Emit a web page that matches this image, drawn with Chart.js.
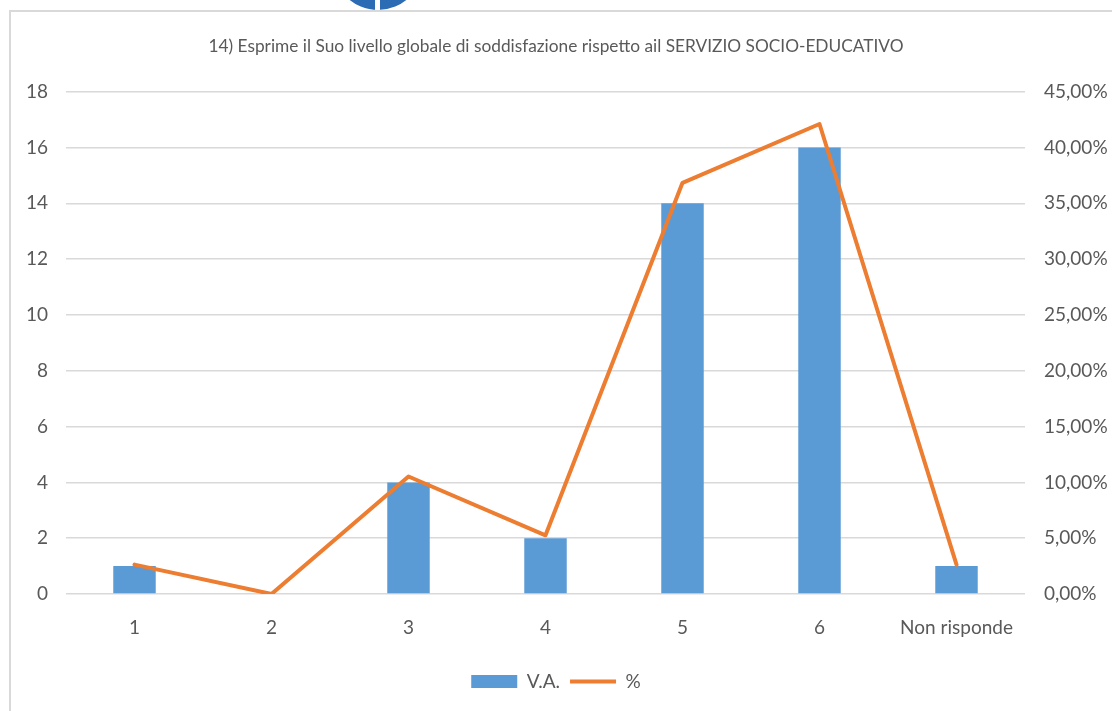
<!DOCTYPE html>
<html>
<head>
<meta charset="utf-8">
<script src="https://cdn.jsdelivr.net/npm/chart.js@4"></script>
<style>
  html, body { margin: 0; padding: 0; background: #fff; overflow: hidden; }
  #wrap { position: relative; width: 1112px; height: 711px; }
  #frameTop { position: absolute; left: 9px; top: 10px; width: 1103px; height: 2px; background: #d9d9d9; }
  #frameLeft { position: absolute; left: 9px; top: 10px; width: 2px; height: 701px; background: #d9d9d9; }
  #logo { position: absolute; left: 333px; top: -80px; width: 90px; height: 90px; border-radius: 50%; background: #2b6cb5; }
  #logoGap { position: absolute; left: 375px; top: 0; width: 5px; height: 10px; background: #fff; }
  canvas { position: absolute; left: 0; top: 0; }
</style>
</head>
<body>
<div id="wrap">
  <div id="logo"></div>
  <div id="logoGap"></div>
  <div id="frameTop"></div>
  <div id="frameLeft"></div>
  <canvas id="c" width="1112" height="711"></canvas>
</div>
<script>
const categories = ['1', '2', '3', '4', '5', '6', 'Non risponde'];
const vaValues = [1, 0, 4, 2, 14, 16, 1];
const pctValues = [2.63, 0, 10.53, 5.26, 36.84, 42.11, 2.63];
const titleText = '14) Esprime il Suo livello globale di soddisfazione rispetto ail SERVIZIO SOCIO-EDUCATIVO';

const FONT = 'Lato';
const TXT = '#595959';

new Chart(document.getElementById('c'), {
  type: 'bar',
  data: {
    labels: categories,
    datasets: [
      {
        label: 'V.A.',
        data: vaValues,
        backgroundColor: '#5b9bd5',
        borderWidth: 0,
        yAxisID: 'y',
        order: 2,
        barPercentage: 0.62,
        categoryPercentage: 0.5,
        pointStyle: 'rect'
      },
      {
        type: 'line',
        label: '%',
        data: pctValues,
        borderColor: '#ed7d31',
        backgroundColor: '#ed7d31',
        borderWidth: 4,
        borderCapStyle: 'round',
        borderJoinStyle: 'round',
        pointRadius: 0,
        tension: 0,
        yAxisID: 'y1',
        order: 1,
        pointStyle: 'line'
      }
    ]
  },
  options: {
    responsive: false,
    animation: false,
    layout: { padding: { left: 0, right: 0, top: 0, bottom: 10 } },
    plugins: {
      title: {
        display: true,
        text: titleText,
        color: TXT,
        font: { family: FONT, size: 17.3, weight: 'normal' },
        padding: { top: 36, bottom: 35 }
      },
      legend: {
        position: 'bottom',
        labels: {
          usePointStyle: true,
          pointStyleWidth: 46,
          boxHeight: 13,
          color: TXT,
          font: { family: FONT, size: 19 },
          padding: 10,
          sort: (a, b) => a.datasetIndex - b.datasetIndex
        }
      },
      tooltip: { enabled: false }
    },
    scales: {
      x: {
        grid: { display: false },
        border: { display: false },
        ticks: { color: TXT, font: { family: FONT, size: 19 }, padding: 14 },
        afterFit: (s) => { s.height = 68; }
      },
      y: {
        position: 'left',
        min: 0,
        max: 18,
        ticks: { stepSize: 2, color: TXT, font: { family: FONT, size: 19 }, padding: 18 },
        grid: { color: '#d9d9d9', lineWidth: 1.5, drawTicks: false },
        border: { display: false },
        afterFit: (s) => { s.width = 66; }
      },
      y1: {
        position: 'right',
        min: 0,
        max: 45,
        ticks: {
          stepSize: 5,
          color: TXT,
          font: { family: FONT, size: 19 },
          padding: 19,
          callback: (v) => v.toFixed(2).replace('.', ',') + '%'
        },
        grid: { display: false, drawTicks: false },
        border: { display: false },
        afterFit: (s) => { s.width = 87; }
      }
    }
  }
});
</script>
</body>
</html>
